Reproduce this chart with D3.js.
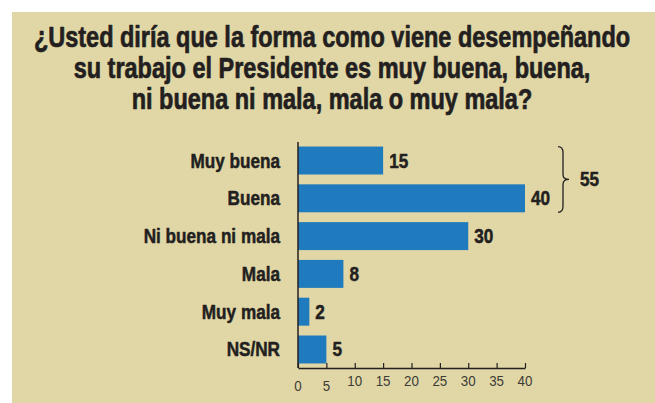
<!DOCTYPE html>
<html>
<head>
<meta charset="utf-8">
<script src="https://cdn.jsdelivr.net/npm/d3@7"></script>
<style>
  body { margin: 0; background: #fff; }
  svg { display: block; }
</style>
</head>
<body>
<div id="chart"></div>
<script>
const titleLines = [
  "¿Usted diría que la forma como viene desempeñando",
  "su trabajo el Presidente es muy buena, buena,",
  "ni buena ni mala, mala o muy mala?"
];
const categories = ["Muy buena", "Buena", "Ni buena ni mala", "Mala", "Muy mala", "NS/NR"];
const values = [15, 40, 30, 8, 2, 5];
const tickValues = [0, 5, 10, 15, 20, 25, 30, 35, 40];
const bracketGroup = ["Muy buena", "Buena"];

const W = 655, H = 403;
const bg = "#e1d7a6";
const barColor = "#1f7bbd";
const ink = "#231f20";
const font = "'Liberation Sans', Arial, Helvetica, sans-serif";

// squeeze factors to imitate the condensed face of the original
const titleSqueeze = 0.81;
const labelSqueeze = 0.88;
const tickSqueeze = 0.92;

const svg = d3.select("#chart")
  .append("svg")
  .attr("width", W)
  .attr("height", H);

// draws a text horizontally condensed around its anchor point
function squeezed(parent, x0, y0, str, sx, anchor) {
  return parent.append("text")
    .attr("transform", `translate(${x0},${y0}) scale(${sx},1)`)
    .attr("text-anchor", anchor || "start")
    .attr("font-family", font)
    .attr("fill", ink)
    .text(str);
}

// bold + a thin outline, heavier like the original's demi face
function heavy(sel, size, sw) {
  return sel.attr("font-weight", "bold")
    .attr("font-size", size)
    .attr("stroke", ink)
    .attr("stroke-width", sw)
    .attr("stroke-linejoin", "round");
}

// panel
svg.append("rect")
  .attr("x", 12).attr("y", 12)
  .attr("width", W - 12).attr("height", H - 12)
  .attr("fill", bg);

// title
const gTitle = svg.append("g");
titleLines.forEach((line, i) => {
  heavy(squeezed(gTitle, 332, 47 + i * 31, line, titleSqueeze, "middle"), 29, 0.7);
});

const x = d3.scaleLinear().domain([0, 40]).range([298, 525]);
const y = d3.scaleBand()
  .domain(categories)
  .range([142, 368])
  .paddingInner(0.26)
  .paddingOuter(0.12);

const data = categories.map((c, i) => ({ cat: c, value: values[i] }));

// bars
svg.append("g")
  .selectAll("rect")
  .data(data)
  .enter()
  .append("rect")
  .attr("x", x(0))
  .attr("y", d => y(d.cat))
  .attr("width", d => x(d.value) - x(0))
  .attr("height", y.bandwidth())
  .attr("fill", barColor);

// value labels
const gVals = svg.append("g");
data.forEach(d => {
  heavy(squeezed(gVals, x(d.value) + 6, y(d.cat) + y.bandwidth() / 2 + 7, d.value, labelSqueeze), 19.5, 0.5);
});

// category labels
const gCats = svg.append("g");
categories.forEach(c => {
  heavy(squeezed(gCats, 280, y(c) + y.bandwidth() / 2 + 7, c, labelSqueeze, "end"), 19.5, 0.5);
});

// left axis line
svg.append("line")
  .attr("x1", x(0)).attr("x2", x(0))
  .attr("y1", 142).attr("y2", 368)
  .attr("stroke", ink)
  .attr("stroke-width", 1.5);

// bottom axis
const xAxis = d3.axisBottom(x)
  .tickValues(tickValues)
  .tickSize(-5)
  .tickSizeOuter(0)
  .tickFormat("");

const gx = svg.append("g")
  .attr("transform", "translate(0,368)")
  .call(xAxis);
gx.select(".domain").attr("stroke", ink).attr("stroke-width", 1.5);
gx.selectAll(".tick line").attr("stroke", ink).attr("stroke-width", 1.2);

// tick labels (the first two sit a little lower in the original)
const gTicks = svg.append("g");
tickValues.forEach((t, i) => {
  squeezed(gTicks, x(t), i < 2 ? 390.5 : 386, t, tickSqueeze, "middle")
    .attr("font-size", 14.5)
    .attr("fill", "#3d3b36");
});

// bracket for Muy buena + Buena
const braceTop = y(bracketGroup[0]);
const braceBot = y(bracketGroup[1]) + y.bandwidth();
const braceMid = (braceTop + braceBot) / 2;
const bx = x(40) + 33;
const brace = d3.path();
brace.moveTo(bx, braceTop);
brace.quadraticCurveTo(bx + 5, braceTop, bx + 5, braceTop + 6);
brace.lineTo(bx + 5, braceMid - 5);
brace.quadraticCurveTo(bx + 5, braceMid, bx + 11, braceMid);
brace.quadraticCurveTo(bx + 5, braceMid, bx + 5, braceMid + 5);
brace.lineTo(bx + 5, braceBot - 6);
brace.quadraticCurveTo(bx + 5, braceBot, bx, braceBot);
svg.append("path")
  .attr("d", brace.toString())
  .attr("fill", "none")
  .attr("stroke", ink)
  .attr("stroke-width", 1.3);

const groupTotal = d3.sum(data.filter(d => bracketGroup.includes(d.cat)), d => d.value);
heavy(squeezed(svg, bx + 22, braceMid + 7, groupTotal, labelSqueeze), 19.5, 0.5);
</script>
</body>
</html>
